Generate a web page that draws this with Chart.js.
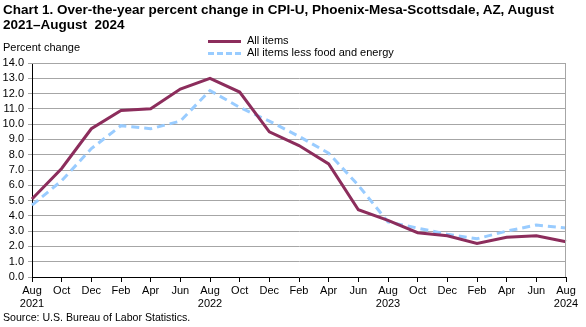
<!DOCTYPE html>
<html>
<head>
    <title>CPI-U Phoenix-Mesa-Scottsdale</title>
    <script src="https://cdn.jsdelivr.net/npm/chart.js"></script>
    <style>
        body { margin: 0; font-family: Arial, "Liberation Sans", sans-serif; }
        #wrap { position: relative; width: 586px; height: 327px; background: #fff; }
        #title { position: absolute; left: 3px; top: 2px; font-size: 13.5px; font-weight: bold; line-height: 15px; width: 583px; white-space: nowrap; }
        #ylabel { position: absolute; left: 3px; top: 41px; font-size: 11px; }
        #source { position: absolute; left: 3px; top: 311px; font-size: 10.6px; }
        .leg { position: absolute; left: 208px; font-size: 11px; height: 12px; line-height: 12px; }
        .leg span.sw { display: inline-block; width: 33px; height: 0; vertical-align: middle; margin-right: 6px; }
        canvas { position: absolute; left: 0; top: 0; }
    </style>
</head>
<body>
<div id="wrap">
    <canvas id="cpiChart" width="586" height="327"></canvas>
    <div id="title">Chart 1. Over-the-year percent change in CPI-U, Phoenix-Mesa-Scottsdale, AZ, August<br>2021&ndash;August&nbsp; 2024</div>
    <div id="ylabel">Percent change</div>
    <div class="leg" style="top:34px"><span class="sw" style="border-top:3px solid #8c2d5c"></span>All items</div>
    <div class="leg" style="top:46px"><span class="sw" style="border-top:3px dashed #99ccff"></span>All items less food and energy</div>
    <div id="source">Source: U.S. Bureau of Labor Statistics.</div>
</div>

<script>
    // bimonthly, Aug 2021 - Aug 2024
    const months = [
        ['Aug', '2021'], 'Oct', 'Dec', 'Feb', 'Apr', 'Jun',
        ['Aug', '2022'], 'Oct', 'Dec', 'Feb', 'Apr', 'Jun',
        ['Aug', '2023'], 'Oct', 'Dec', 'Feb', 'Apr', 'Jun',
        ['Aug', '2024']
    ];
    const allItems = [5.1, 7.1, 9.7, 10.9, 11.0, 12.3, 13.0, 12.1, 9.5, 8.6, 7.4, 4.4, 3.7, 2.9, 2.7, 2.2, 2.6, 2.7, 2.3];
    const coreItems = [4.7, 6.3, 8.4, 9.9, 9.7, 10.2, 12.2, 11.1, 10.2, 9.2, 8.1, 6.0, 3.6, 3.2, 2.8, 2.5, 3.0, 3.4, 3.2];

    const ctx = document.getElementById('cpiChart').getContext('2d');
    new Chart(ctx, {
        type: 'line',
        data: {
            labels: months,
            datasets: [{
                label: 'All items',
                data: allItems,
                borderColor: '#8c2d5c',
                borderWidth: 3,
                pointRadius: 0,
                tension: 0
            }, {
                label: 'All items less food and energy',
                data: coreItems,
                borderColor: '#99ccff',
                borderWidth: 3,
                borderDash: [8, 5],
                pointRadius: 0,
                tension: 0
            }]
        },
        options: {
            responsive: false,
            animation: false,
            layout: { padding: { left: 0, right: 20, top: 63, bottom: 0 } },
            plugins: { legend: { display: false }, tooltip: { enabled: false } },
            scales: {
                x: {
                    offset: false,
                    grid: { drawOnChartArea: false, color: '#000', tickLength: 5 },
                    border: { color: '#000', width: 1 },
                    ticks: { color: '#000', font: { family: 'Arial', size: 11 }, maxRotation: 0, autoSkip: false, padding: 2 },
                    afterFit: function(scale) { scale.height = 50; }
                },
                y: {
                    min: 0,
                    max: 14,
                    ticks: {
                        stepSize: 1,
                        autoSkip: false,
                        color: '#000',
                        font: { family: 'Arial', size: 11 },
                        padding: 4,
                        callback: function(v) { return v.toFixed(1); }
                    },
                    grid: { color: '#a6a6a6', tickLength: 4 },
                    border: { color: '#000', width: 1 },
                    afterFit: function(scale) { scale.width = 32; }
                }
            }
        },
        plugins: [{
            id: 'frame',
            afterDraw: function(chart) {
                const a = chart.chartArea, c = chart.ctx;
                c.save();
                c.strokeStyle = '#a6a6a6';
                c.lineWidth = 1;
                c.beginPath();
                c.moveTo(a.left, a.top + 0.5);
                c.lineTo(a.right - 0.5, a.top + 0.5);
                c.lineTo(a.right - 0.5, a.bottom);
                c.stroke();
                c.restore();
            }
        }]
    });
</script>
</body>
</html>
